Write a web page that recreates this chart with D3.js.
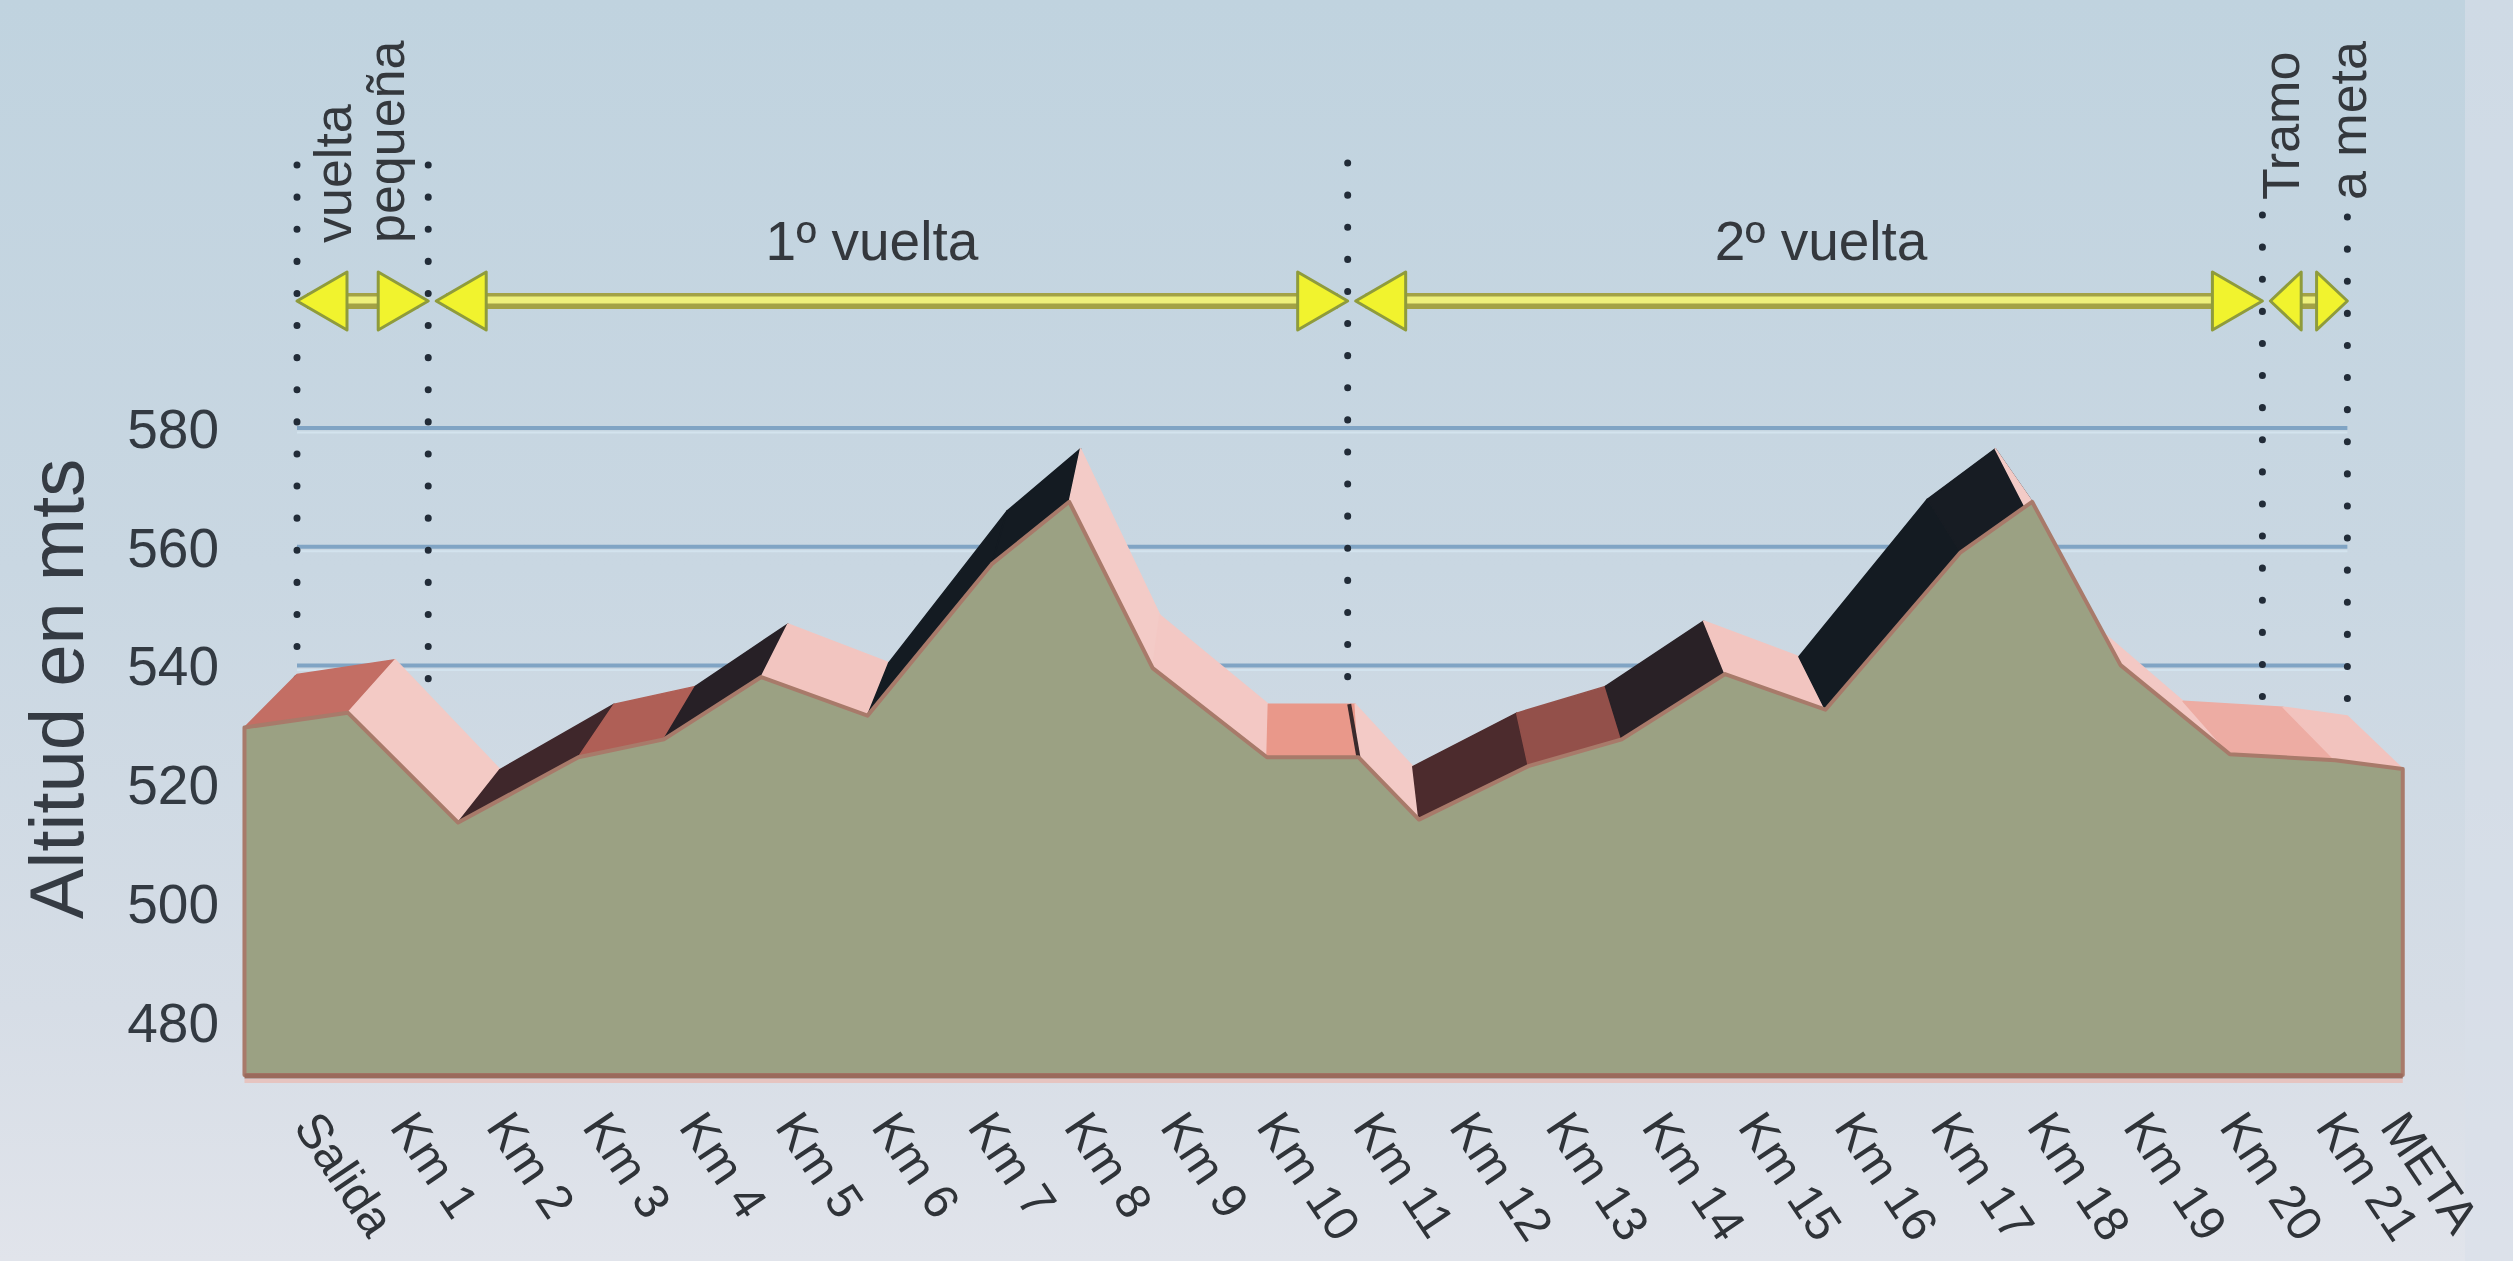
<!DOCTYPE html>
<html><head><meta charset="utf-8">
<script src="https://cdn.jsdelivr.net/npm/d3@7"></script>
<style>html,body{margin:0;padding:0;overflow:hidden;background:#c8d7e1}</style>
</head><body>
<svg id="c" width="2513" height="1261"></svg>
<script>
// ---------- data ----------
const categories = ["Salida","Km 1","Km 2","Km 3","Km 4","Km 5","Km 6","Km 7","Km 8","Km 9","Km 10",
  "Km 11","Km 12","Km 13","Km 14","Km 15","Km 16","Km 17","Km 18","Km 19","Km 20","Km 21","META"];
const labelPositions = [0,1,2,3,4,5,6,7,8,9,10,11,12,13,14,15,16,17,18,19,20,21,21.67];
const profileKm = [0,1.04,2.15,3.36,4.22,5.2,6.27,7.52,8.3,9.14,10.29,
  11.21,11.82,12.92,13.86,14.9,15.91,17.27,17.99,18.88,19.98,21.04,21.72];
const altitudes = [538.5,541,522.5,533.5,536.5,547,540.5,566,576.5,548.5,533.5,
  533.5,523,532,536.5,547.5,541.5,568,576.5,549,534,533,531.5];
const yTicks = [480,500,520,540,560,580];
const gridValues = [480,500,520,540,560,580];
const lapMarkers = [0,1.39,11.13,20.82,21.72];
const lapNames = [["vuelta","pequeña"],["1º vuelta"],["2º vuelta"],["Tramo","a meta"]];
const yTitle = "Altitud en mts";
const floorValue = 480;

// ---------- geometry ----------
const W = 2513, H = 1261;
const vpX = 1295, persp = 0.95, depthDy = 53;
const xBack = d3.scaleLinear().domain([0,21]).range([297, 2279.4]);
const yBack = d3.scaleLinear().domain([480,580]).range([1022,428]);
const xLabel = d3.scaleLinear().domain([0,21]).range([292, 2314]);
const fx = x => vpX + (x - vpX)/persp;       // back plane -> front plane (x)
const fy = y => y + depthDy;                  // back plane -> front plane (y)
const font = "Liberation Sans, Arial, sans-serif";

const svg = d3.select("#c");
const defs = svg.append("defs");
const bg = defs.append("linearGradient").attr("id","bg").attr("x1",0).attr("y1",0).attr("x2",0).attr("y2",1);
bg.append("stop").attr("offset","0%").attr("stop-color","#c0d3df");
bg.append("stop").attr("offset","45%").attr("stop-color","#c9d7e2");
bg.append("stop").attr("offset","80%").attr("stop-color","#d6dde6");
bg.append("stop").attr("offset","100%").attr("stop-color","#e1e4eb");
svg.append("rect").attr("width",W).attr("height",H).attr("fill","url(#bg)");
svg.append("rect").attr("x",2465).attr("width",W-2465).attr("height",H).attr("fill","#d8e0e9").attr("opacity",0.6);

// ---------- back wall gridlines ----------
svg.append("g").selectAll("line").data(gridValues).join("line")
  .attr("x1", xBack(0)).attr("x2", xBack(21.72))
  .attr("y1", d=>yBack(d)).attr("y2", d=>yBack(d))
  .attr("stroke","#80a4c4").attr("stroke-width",4);
svg.append("g").selectAll("line").data(gridValues).join("line")
  .attr("x1", xBack(0)).attr("x2", xBack(21.72))
  .attr("y1", d=>yBack(d)+4.5).attr("y2", d=>yBack(d)+4.5)
  .attr("stroke","#d3e3ee").attr("stroke-width",2);

// ---------- dotted lap lines ----------
const dotTops = [165,165,163,215,217];
svg.append("g").selectAll("line").data(lapMarkers).join("line")
  .attr("x1", d=>xBack(d)).attr("x2", d=>xBack(d))
  .attr("y1", (d,i)=>dotTops[i]).attr("y2", yBack(floorValue))
  .attr("stroke","#222c38").attr("stroke-width",7)
  .attr("stroke-linecap","round").attr("stroke-dasharray","0.1 32");

// ---------- ribbon (top faces) ----------
const pts = profileKm.map((p,i)=>({p, a:altitudes[i]}));
const shade = d3.scaleLinear()
  .domain([-20,-2,0,3,8,12])
  .range(["#f3cbc7","#f2c3be","#e9988a","#b9645a","#4f2c2e","#141b22"])
  .clamp(true);
const segs = d3.pairs(pts);
svg.append("g").selectAll("path").data(segs).join("path")
  .attr("d", ([a,b])=>{
    const ba=[xBack(a.p), yBack(a.a)], bb=[xBack(b.p), yBack(b.a)];
    const fa=[fx(ba[0]), fy(ba[1])], fb=[fx(bb[0]), fy(bb[1])];
    return "M"+[ba,bb,fb,fa].map(q=>q.join(",")).join("L")+"Z";
  })
  .attr("fill", ([a,b])=>shade((b.a-a.a)/(b.p-a.p)))
  .attr("stroke", ([a,b])=>shade((b.a-a.a)/(b.p-a.p)))
  .attr("stroke-width",1.5).attr("stroke-linejoin","round");

// dark edge where the lap line meets the ribbon (Km 11 corner)
const edgePt = pts[11];
svg.append("line")
  .attr("x1", xBack(edgePt.p)-6).attr("y1", yBack(edgePt.a))
  .attr("x2", fx(xBack(edgePt.p))).attr("y2", fy(yBack(edgePt.a)))
  .attr("stroke","#3a2a2c").attr("stroke-width",4);

// ---------- front face ----------
const area = d3.area()
  .x(d=>fx(xBack(d.p)))
  .y0(fy(yBack(floorValue)))
  .y1(d=>fy(yBack(d.a)));
svg.append("path").datum(pts).attr("d", area)
  .attr("fill","#9ba183").attr("stroke","#a87a6a").attr("stroke-width",4)
  .attr("stroke-linejoin","round");
svg.append("line")
  .attr("x1", fx(xBack(0))).attr("x2", fx(xBack(21.72)))
  .attr("y1", fy(yBack(floorValue))+1).attr("y2", fy(yBack(floorValue))+1)
  .attr("stroke","#9a6a5c").attr("stroke-width",5);
svg.append("line")
  .attr("x1", fx(xBack(0))).attr("x2", fx(xBack(21.72)))
  .attr("y1", fy(yBack(floorValue))+6).attr("y2", fy(yBack(floorValue))+6)
  .attr("stroke","#e6c4c0").attr("stroke-width",4);

// ---------- axes ----------
const yAxis = svg.append("g").attr("transform","translate(219,0)")
  .call(d3.axisLeft(yBack).tickValues(yTicks).tickSize(0).tickPadding(0));
yAxis.select(".domain").remove();
yAxis.selectAll("text").attr("font-family",font)
  .attr("font-size",55).attr("fill","#333a42").attr("dy","0.35em");

const xAxis = svg.append("g").attr("transform","translate(0,1127)")
  .call(d3.axisBottom(xLabel).tickValues(labelPositions).tickSize(0).tickFormat((d,i)=>categories[i]));
xAxis.select(".domain").remove();
xAxis.selectAll("text")
  .attr("font-family",font).attr("font-size",49)
  .attr("fill","#2f3338").attr("x",0).attr("y",0).attr("dy",0)
  .attr("text-anchor","start").attr("transform","rotate(56)");

svg.append("text").attr("transform","translate(83,689) rotate(-90)")
  .attr("text-anchor","middle").attr("font-family",font)
  .attr("font-size",76).attr("fill","#353b43").text(yTitle);

// ---------- lap arrows ----------
const arrowY = 301;
const laps = d3.pairs(lapMarkers).map(([s,e],i)=>({s:xBack(s)+(i?8:0), e:xBack(e), names:lapNames[i]}));
const ag = svg.append("g");
laps.forEach(l=>{
  ag.append("line").attr("x1",l.s+10).attr("x2",l.e-10).attr("y1",arrowY).attr("y2",arrowY)
    .attr("stroke","#a3a246").attr("stroke-width",16);
  ag.append("line").attr("x1",l.s+10).attr("x2",l.e-10).attr("y1",arrowY-1).attr("y2",arrowY-1)
    .attr("stroke","#eef07c").attr("stroke-width",7);
});
const heads = [];
laps.forEach(l=>{
  const w = Math.min(50,(l.e-l.s)/2.5);
  heads.push({tip:l.s, dir:-1, w});
  heads.push({tip:l.e, dir:1, w});
});
ag.selectAll("path").data(heads).join("path")
  .attr("d", h=>`M${h.tip},${arrowY}L${h.tip-h.dir*h.w},${arrowY-29}L${h.tip-h.dir*h.w},${arrowY+29}Z`)
  .attr("fill","#f1f32e").attr("stroke","#8f9b3c").attr("stroke-width",3).attr("stroke-linejoin","round");

// lap texts
const lapTextShift = {1:-20, 2:12};
[1,2].forEach(i=>{
  svg.append("text").attr("x",(laps[i].s+laps[i].e)/2 + lapTextShift[i]).attr("y",260)
    .attr("text-anchor","middle").attr("font-family",font).attr("font-size",55)
    .attr("fill","#34383d").text(lapNames[i][0]);
});
const vert = [{i:0, offs:[54,107], y:243},{i:3, offs:[29,96], y:200}];
vert.forEach(v=>{
  lapNames[v.i].forEach((t,j)=>{
    svg.append("text").attr("transform",`translate(${laps[v.i].s+v.offs[j]},${v.y}) rotate(-90)`)
      .attr("font-family",font).attr("font-size",52).attr("fill","#34383d").text(t);
  });
});
</script>
</body></html>
